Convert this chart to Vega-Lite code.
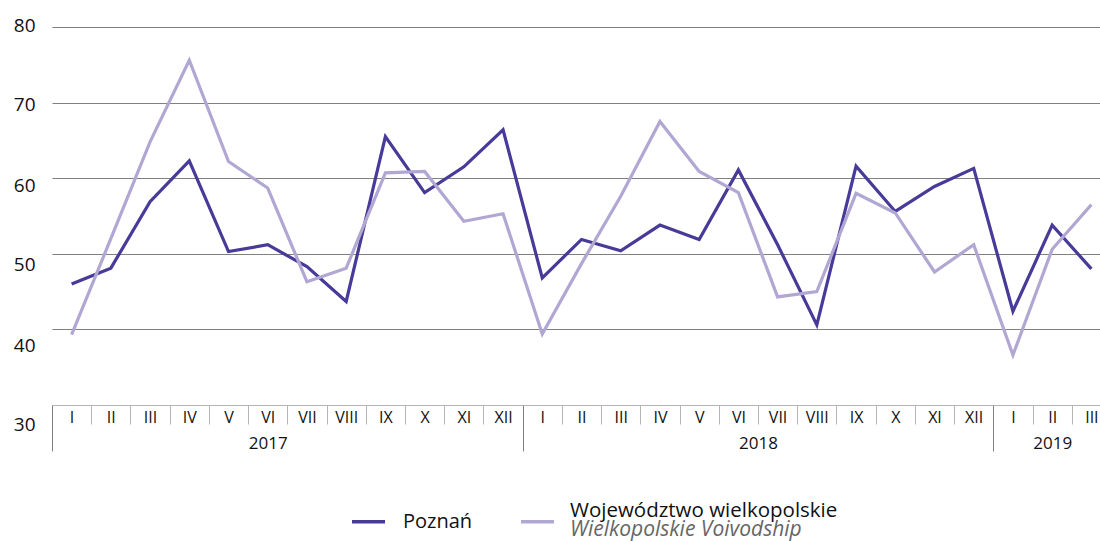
{
  "$schema": "https://vega.github.io/schema/vega-lite/v6.json",
  "autosize": {"type": "none"},
  "width": 1048,
  "height": 378,
  "padding": {"left": 52, "top": 27, "right": 0, "bottom": 136},
  "background": "white",
  "config": {"view": {"stroke": null}, "font": "Open Sans"},
  "title": {
    "text": "Województwo wielkopolskie",
    "subtitle": "Wielkopolskie Voivodship",
    "orient": "bottom",
    "anchor": "start",
    "frame": "group",
    "dx": 518,
    "offset": 0,
    "dy": -31,
    "font": "Open Sans",
    "fontSize": 20.5,
    "fontWeight": "normal",
    "color": "#111111",
    "subtitleFont": "Open Sans",
    "subtitleFontSize": 21,
    "subtitleFontStyle": "italic",
    "subtitleColor": "#666666",
    "subtitlePadding": -3
  },
  "data": {
    "values": [
      {"t": 0, "series": "Poznań", "v": 46.0},
      {"t": 1, "series": "Poznań", "v": 48.1},
      {"t": 2, "series": "Poznań", "v": 56.9},
      {"t": 3, "series": "Poznań", "v": 62.3},
      {"t": 4, "series": "Poznań", "v": 50.3},
      {"t": 5, "series": "Poznań", "v": 51.2},
      {"t": 6, "series": "Poznań", "v": 48.3},
      {"t": 7, "series": "Poznań", "v": 43.7},
      {"t": 8, "series": "Poznań", "v": 65.5},
      {"t": 9, "series": "Poznań", "v": 58.1},
      {"t": 10, "series": "Poznań", "v": 61.5},
      {"t": 11, "series": "Poznań", "v": 66.4},
      {"t": 12, "series": "Poznań", "v": 46.8},
      {"t": 13, "series": "Poznań", "v": 51.9},
      {"t": 14, "series": "Poznań", "v": 50.4},
      {"t": 15, "series": "Poznań", "v": 53.8},
      {"t": 16, "series": "Poznań", "v": 51.9},
      {"t": 17, "series": "Poznań", "v": 61.1},
      {"t": 18, "series": "Poznań", "v": 51.2},
      {"t": 19, "series": "Poznań", "v": 40.6},
      {"t": 20, "series": "Poznań", "v": 61.6},
      {"t": 21, "series": "Poznań", "v": 55.6},
      {"t": 22, "series": "Poznań", "v": 58.9},
      {"t": 23, "series": "Poznań", "v": 61.3},
      {"t": 24, "series": "Poznań", "v": 42.4},
      {"t": 25, "series": "Poznań", "v": 53.8},
      {"t": 26, "series": "Poznań", "v": 48.0},
      {"t": 0, "series": "Województwo wielkopolskie", "v": 39.3},
      {"t": 1, "series": "Województwo wielkopolskie", "v": 52.0},
      {"t": 2, "series": "Województwo wielkopolskie", "v": 64.8},
      {"t": 3, "series": "Województwo wielkopolskie", "v": 75.6},
      {"t": 4, "series": "Województwo wielkopolskie", "v": 62.2},
      {"t": 5, "series": "Województwo wielkopolskie", "v": 58.7},
      {"t": 6, "series": "Województwo wielkopolskie", "v": 46.3},
      {"t": 7, "series": "Województwo wielkopolskie", "v": 48.1},
      {"t": 8, "series": "Województwo wielkopolskie", "v": 60.7},
      {"t": 9, "series": "Województwo wielkopolskie", "v": 60.9},
      {"t": 10, "series": "Województwo wielkopolskie", "v": 54.3},
      {"t": 11, "series": "Województwo wielkopolskie", "v": 55.3},
      {"t": 12, "series": "Województwo wielkopolskie", "v": 39.4},
      {"t": 13, "series": "Województwo wielkopolskie", "v": 48.7},
      {"t": 14, "series": "Województwo wielkopolskie", "v": 57.6},
      {"t": 15, "series": "Województwo wielkopolskie", "v": 67.5},
      {"t": 16, "series": "Województwo wielkopolskie", "v": 60.9},
      {"t": 17, "series": "Województwo wielkopolskie", "v": 58.1},
      {"t": 18, "series": "Województwo wielkopolskie", "v": 44.3},
      {"t": 19, "series": "Województwo wielkopolskie", "v": 45.0},
      {"t": 20, "series": "Województwo wielkopolskie", "v": 58.0},
      {"t": 21, "series": "Województwo wielkopolskie", "v": 55.4},
      {"t": 22, "series": "Województwo wielkopolskie", "v": 47.6},
      {"t": 23, "series": "Województwo wielkopolskie", "v": 51.2},
      {"t": 24, "series": "Województwo wielkopolskie", "v": 36.6},
      {"t": 25, "series": "Województwo wielkopolskie", "v": 50.6},
      {"t": 26, "series": "Województwo wielkopolskie", "v": 56.5}
    ]
  },
  "resolve": {"axis": {"x": "independent"}},
  "layer": [
    {
      "mark": {"type": "line", "strokeWidth": 3.2, "strokeJoin": "miter", "strokeCap": "butt"},
      "encoding": {
        "x": {
          "field": "t",
          "type": "quantitative",
          "scale": {"domain": [-0.5, 26.5], "range": [0, 1059], "nice": false, "zero": false},
          "axis": {
            "orient": "bottom",
            "title": null,
            "values": [-0.5, 0.5, 1.5, 2.5, 3.5, 4.5, 5.5, 6.5, 7.5, 8.5, 9.5, 10.5, 11.5, 12.5, 13.5, 14.5, 15.5, 16.5, 17.5, 18.5, 19.5, 20.5, 21.5, 22.5, 23.5, 24.5, 25.5],
            "labelExpr": "['I','II','III','IV','V','VI','VII','VIII','IX','X','XI','XII'][(datum.value + 0.5) % 12]",
            "labelOffset": 19.6,
            "labelFlush": false,
            "labelOverlap": false,
            "labelBound": false,
            "labelBaseline": "middle",
            "labelPadding": -7,
            "labelFont": "Open Sans",
            "labelFontSize": 16,
            "labelColor": "#111111",
            "tickSize": 19,
            "tickColor": "#b5b5b5",
            "tickWidth": 1,
            "domain": true,
            "domainColor": "#b5b5b5",
            "domainWidth": 1,
            "grid": false
          }
        },
        "y": {
          "field": "v",
          "type": "quantitative",
          "scale": {"domain": [30, 80], "nice": false, "zero": false},
          "axis": {
            "title": null,
            "values": [30, 40, 50, 60, 70, 80],
            "domain": false,
            "ticks": false,
            "grid": true,
            "gridColor": "#808080",
            "gridWidth": 1,
            "gridOpacity": {"condition": {"test": "datum.value == 30", "value": 0}, "value": 1},
            "labelFont": "Open Sans",
            "labelFontSize": 19,
            "labelColor": "#111111",
            "labelPadding": 17,
            "labelOffset": {
              "condition": [
                {"test": "datum.value == 80", "value": -2},
                {"test": "datum.value == 70", "value": 1.5},
                {"test": "datum.value == 60", "value": 7},
                {"test": "datum.value == 50", "value": 10.5},
                {"test": "datum.value == 40", "value": 16}
              ],
              "value": 19
            }
          }
        },
        "color": {
          "field": "series",
          "type": "nominal",
          "sort": ["Poznań", "Województwo wielkopolskie"],
          "scale": {"domain": ["Poznań", "Województwo wielkopolskie"], "range": ["#473a98", "#b2a7d3"]},
          "legend": {
            "title": null,
            "orient": "none",
            "legendX": 298,
            "legendY": 476,
            "direction": "horizontal",
            "padding": 0,
            "symbolType": "stroke",
            "symbolSize": 1089,
            "symbolStrokeWidth": 3.5,
            "labelFont": "Open Sans",
            "labelFontSize": 20,
            "labelColor": "#111111",
            "labelOffset": 16,
            "columnPadding": 41,
            "labelExpr": "datum.label == 'Poznań' ? datum.label : ''"
          }
        }
      }
    },
    {
      "mark": {"type": "point", "opacity": 0},
      "encoding": {
        "x": {
          "field": "t",
          "type": "quantitative",
          "axis": {
            "orient": "bottom",
            "title": null,
            "values": [-0.5, 5, 11.5, 17.5, 23.5, 25],
            "labelExpr": "datum.value == 5 ? '2017' : datum.value == 17.5 ? '2018' : datum.value == 25 ? '2019' : ''",
            "labelFlush": false,
            "labelOverlap": false,
            "labelBound": false,
            "labelBaseline": "middle",
            "labelPadding": -8,
            "labelFont": "Open Sans",
            "labelFontSize": 17,
            "labelColor": "#111111",
            "tickSize": 46,
            "tickColor": "#808080",
            "tickWidth": 1,
            "tickOpacity": {"condition": {"test": "datum.value == 5 || datum.value == 17.5 || datum.value == 25", "value": 0}, "value": 1},
            "domain": false,
            "grid": false
          }
        }
      }
    }
  ]
}
